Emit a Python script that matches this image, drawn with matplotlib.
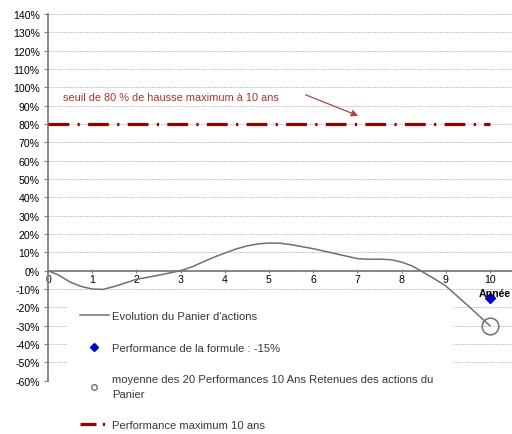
import matplotlib
matplotlib.use("Agg")
import matplotlib.pyplot as plt
from matplotlib.lines import Line2D
from matplotlib.patches import Rectangle

plt.rcParams['font.family'] = ['Liberation Sans', 'DejaVu Sans']

# courbe du panier, en %
annees = [0, 0.25, 0.5, 0.75, 1, 1.25, 1.5, 1.75, 2, 2.5, 3, 3.25, 3.5, 3.75, 4,
          4.25, 4.5, 4.75, 5, 5.25, 5.5, 6, 6.5, 7, 7.25, 7.5, 7.75, 8, 8.25, 8.5, 8.75, 9, 9.5, 10]
panier = [0, -2.5, -6.2, -8.6, -10, -10.2, -8.6, -6.7, -4.7, -2.5, 0, 2, 4.7, 7.3, 9.6,
          11.8, 13.5, 14.6, 15.1, 15, 14.2, 12, 9.3, 6.6, 6.2, 6.3, 6, 4.7, 2.5, -1, -4.5, -8.3, -19, -30]

perf_formule = -15
moyenne_20 = -30
seuil_max = 80
yticks = list(range(-60, 141, 10))
xticks = list(range(0, 11))

rouge = '#990000'
gris = '#707070'

fig = plt.figure(figsize=(5.12, 4.35), dpi=100)
ax = fig.add_axes([48/512, 1 - 381.7/435, 464/512, 366.7/435])

ax.set_xlim(0, 10.5)
ax.set_ylim(-60, 140)

for y in yticks:
    ax.axhline(y, color='#b0b0b0', lw=0.6, ls=(0, (1.5, 1.2)), zorder=0)

# fond blanc de la légende (cache la grille)
ax.add_patch(Rectangle((67/512, 0), (453 - 67)/512, 1 - 298/435, transform=fig.transFigure,
                       facecolor='white', edgecolor='none', clip_on=False, zorder=1))

ax.plot(annees, panier, color=gris, lw=1.1, zorder=3)
ax.plot([0, 10], [seuil_max, seuil_max], color=rouge, lw=2.3,
        dashes=(6.5, 2.6, 0.7, 2.6), zorder=3)
ax.plot([10], [perf_formule], marker='D', ms=5, color='#0000cc', ls='none', zorder=5)
ax.plot([10], [moyenne_20], marker='o', ms=12, mfc='none', mec=gris, mew=1.1, ls='none', zorder=5)

ax.spines['top'].set_visible(False)
ax.spines['right'].set_visible(False)
ax.spines['bottom'].set_position(('data', 0))
for s in ('left', 'bottom'):
    ax.spines[s].set_color('#808080')
    ax.spines[s].set_linewidth(1.3)

ax.set_yticks(yticks)
ax.set_yticklabels([f'{v}%' for v in yticks])
ax.set_xticks(xticks)
ax.tick_params(axis='y', length=3, color='#808080', labelsize=7.6, pad=3)
ax.tick_params(axis='x', length=3, direction='inout', color='#808080', labelsize=7.6, pad=1)

ax.text(10.12, -12.3, 'Année', fontsize=7.6, fontweight='bold', ha='center', va='center', zorder=6)

ax.text(0.34, 94.8, 'seuil de 80 % de hausse maximum à 10 ans', color='#a8332f',
        fontsize=7.9, va='center', ha='left')
ax.annotate('', xy=(7.08, 83.9), xytext=(5.77, 96.5),
            arrowprops=dict(arrowstyle='-|>', color='#b04545', lw=0.9, mutation_scale=10))

handles = [
    Line2D([], [], color=gris, lw=1.1),
    Line2D([], [], marker='D', ms=4.5, color='#0000cc', ls='none'),
    Line2D([], [], marker='o', ms=4, mfc='none', mec=gris, ls='none'),
    Line2D([], [], color=rouge, lw=2.3, dashes=(5, 2.0, 0.7, 10)),
]
labels = [
    "Evolution du Panier d'actions",
    'Performance de la formule : -15%',
    'moyenne des 20 Performances 10 Ans Retenues des actions du\nPanier',
    'Performance maximum 10 ans',
]
leg = ax.legend(handles, labels, loc='upper left', bbox_to_anchor=(77/512, 1 - 309/435),
                bbox_transform=fig.transFigure, fontsize=8.1, frameon=False,
                handlelength=2.5, handletextpad=0.35, labelspacing=1.9, borderpad=0.3,
                borderaxespad=0)
leg.set_zorder(10)
for t in leg.get_texts():
    t.set_color('#383838')
    t.set_linespacing(1.6)

fig.savefig('out.png', dpi=100)
